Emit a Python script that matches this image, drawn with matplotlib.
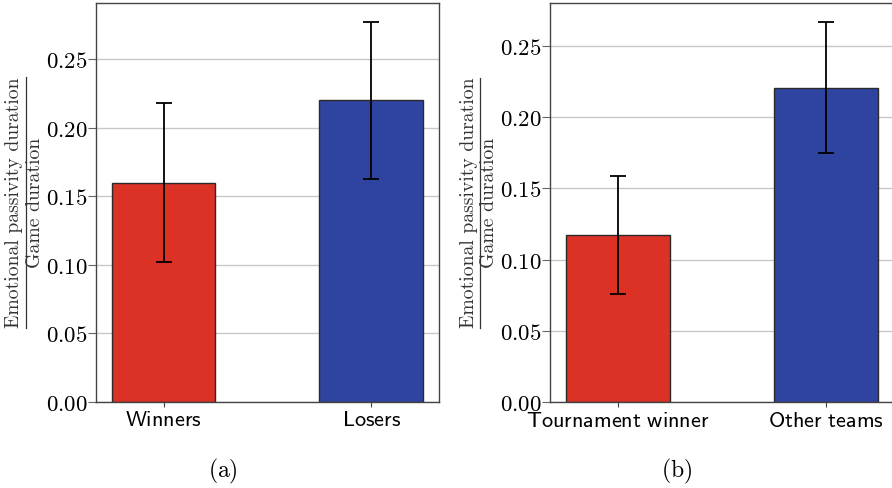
import matplotlib
matplotlib.use("Agg")
import matplotlib.pyplot as plt
from matplotlib.lines import Line2D

plt.rcParams['mathtext.fontset'] = 'cm'
plt.rcParams['axes.unicode_minus'] = False

# panel (a)
groups_a = ["Winners", "Losers"]
means_a = [0.160, 0.220]
errs_a = [0.058, 0.057]

# panel (b)
groups_b = ["Tournament winner", "Other teams"]
means_b = [0.1175, 0.2205]
errs_b = [0.0415, 0.046]

yticks = [0.0, 0.05, 0.10, 0.15, 0.20, 0.25]
bar_colors = ["#dc3125", "#2f44a0"]
label_num = "Emotional passivity duration"
label_den = "Game duration"

fig = plt.figure(figsize=(8.92, 4.88), dpi=100)
W, H = 892.0, 488.0
ax1 = fig.add_axes([96 / W, 1 - 402 / H, (438.7 - 96) / W, (402 - 3.3) / H])
ax2 = fig.add_axes([550 / W, 1 - 402.3 / H, (893.5 - 550) / W, (402.3 - 3.3) / H])


def frac_label(spine_x, yc):
    # y label drawn as a stacked fraction, like the LaTeX original
    num = fig.text((spine_x - 81.5) / W, 1 - yc / H, label_num, rotation=90,
                   ha="center", va="center", fontsize=14.2, family="cmr10", color="#333333")
    fig.text((spine_x - 61) / W, 1 - yc / H, label_den, rotation=90,
             ha="center", va="center", fontsize=14.2, family="cmr10", color="#333333")
    fig.canvas.draw()
    bb = num.get_window_extent()
    fig.add_artist(Line2D([(spine_x - 70.5) / W] * 2, [bb.y0 / H, bb.y1 / H],
                          transform=fig.transFigure, color="#333333", lw=0.9))


def draw(ax, groups, means, errs, ytop, caption, cx):
    x = list(range(len(groups)))
    ax.set_axisbelow(True)
    ax.yaxis.grid(True, color="#c8c8c8", lw=1)
    ax.bar(x, means, width=0.5, color=bar_colors, edgecolor="#2a2a2a", lw=1, zorder=2)
    ax.errorbar(x, means, yerr=errs, fmt="none", ecolor="black", elinewidth=1.3,
                capsize=6, capthick=1.3, zorder=3)
    ax.set_xlim(-0.325, 1.325)
    ax.set_ylim(0, ytop)
    ax.set_xticks(x)
    ax.set_xticklabels([r'$\mathsf{' + g.replace(' ', r'\ ') + '}$' for g in groups],
                       fontsize=16)
    ax.set_yticks(yticks)
    ax.set_yticklabels([r'$%.2f$' % t for t in yticks], fontsize=16.5)
    ax.tick_params(axis="y", length=5.5, width=0.8, color="#666666", pad=0.5)
    ax.tick_params(axis="x", length=3.5, width=0.8, color="#444444", pad=2.5)
    for s in ax.spines.values():
        s.set_color("#444444")
        s.set_linewidth(1)
    fig.text(cx / W, 1 - 471 / H, caption, fontsize=17, ha="center", va="center")


draw(ax1, groups_a, means_a, errs_a, 0.2909, r'$\mathrm{(a)}$', 223)
draw(ax2, groups_b, means_b, errs_b, 0.2798, r'$\mathrm{(b)}$', 677)
frac_label(96, 202.7)
frac_label(550, 202.8)

fig.savefig("out.png", dpi=100)
